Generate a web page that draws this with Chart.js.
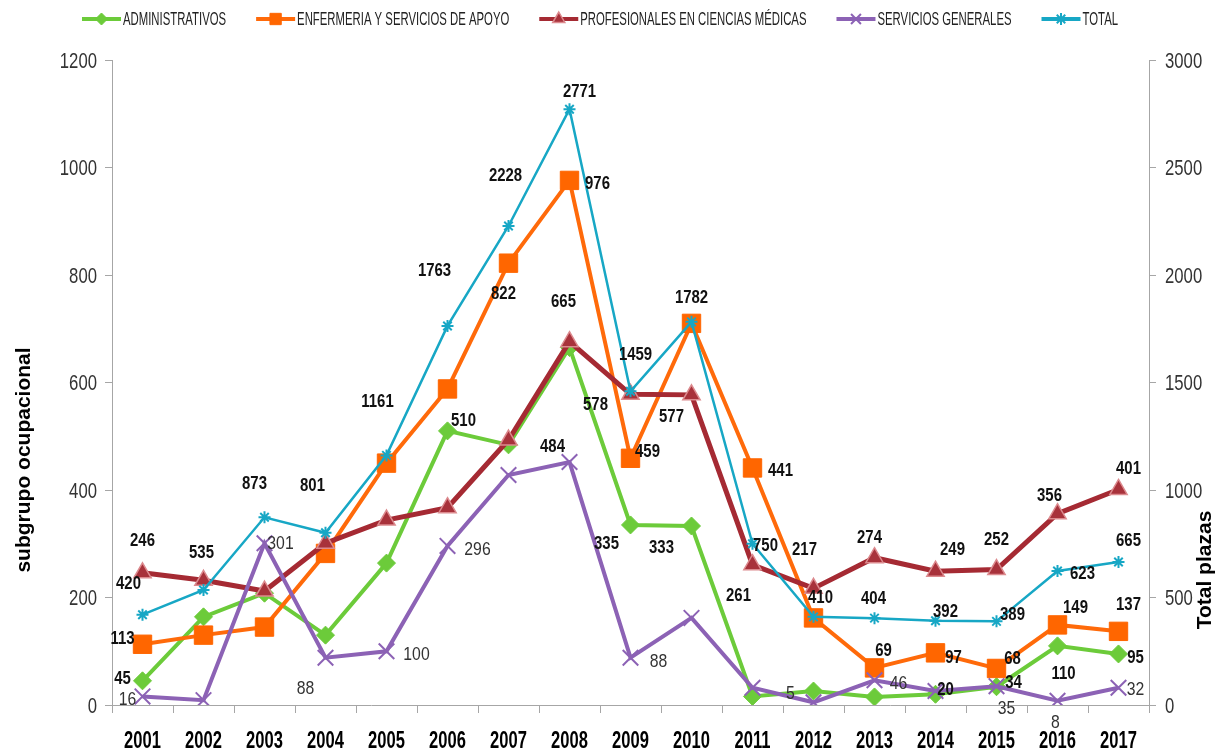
<!DOCTYPE html>
<html>
<head>
<meta charset="utf-8">
<script src="https://cdn.jsdelivr.net/npm/chart.js@4.4.1/dist/chart.umd.min.js"></script>
<style>
    html, body { margin: 0; padding: 0; background: #fff; }
    #wrap { width: 1217px; height: 756px; }
</style>
</head>
<body>
<div id="wrap"><canvas id="grafico" width="1217" height="756"></canvas></div>
<script>
// datos
const years = ['2001', '2002', '2003', '2004', '2005', '2006', '2007', '2008', '2009',
    '2010', '2011', '2012', '2013', '2014', '2015', '2016', '2017'];
const administrativos = [45, 164, 208, 130, 264, 510, 484, 665, 335, 333, 16, 26, 15, 20, 34, 110, 95];
const enfermeria = [113, 130, 145, 282, 450, 588, 822, 976, 459, 710, 441, 162, 69, 97, 68, 149, 137];
const profesionales = [246, 232, 212, 301, 344, 367, 493, 676, 578, 577, 261, 217, 274, 249, 252, 356, 401];
const serviciosGenerales = [16, 9, 301, 88, 100, 296, 428, 452, 88, 162, 32, 5, 46, 26, 35, 8, 32];
const totalPlazas = [420, 535, 873, 801, 1161, 1763, 2228, 2771, 1459, 1782, 750, 410, 404, 392, 389, 623, 665];

// donde va cada etiqueta respecto a su punto (null = sin etiqueta)
const offAdmin = [[-20, -3], null, null, null, null, [16, -11], [44, 1], [-6, -47], [-24, 18], [-30, 21],
    null, null, null, [10, -6], [17, -5], [6, 27], [17, 3]];
const offEnf = [[-20, -7], null, null, null, null, null, [-5, 29], [28, 2], [17, -8], null,
    [28, 2], null, [9, -18], [18, 4], [16, -11], [18, -18], [10, -28]];
const offProf = [[0, -33], null, null, null, null, null, null, null, [-35, 9], [-20, 21],
    [-14, 30], [-9, -40], [-5, -21], [17, -23], [0, -31], [-8, -19], [10, -22]];
const offServ = [[-15, 2], null, [16, -1], [-20, 29], [30, 2], [30, 2], null, null, [28, 2], null,
    null, [-23, -10], [24, 2], null, [10, 21], [-2, 20], [17, 0]];
const offTotal = [[-14, -32], [-2, -38], [-10, -35], [-13, -48], [-9, -55], [-13, -56], [-3, -51], [10, -19],
    [5, -38], [0, -25], [13, 1], [7, -20], [-1, -21], [10, -10], [16, -8], [25, 2], [10, -22]];

const FUENTE = '"Liberation Sans", Arial, sans-serif';
const GRIS = '#a6a6a6';

function texto(ctx, str, x, y, size, bold, align, sx, color) {
    ctx.save();
    ctx.font = (bold ? 'bold ' : '') + size + 'px ' + FUENTE;
    ctx.fillStyle = color;
    ctx.textAlign = align;
    ctx.textBaseline = 'alphabetic';
    ctx.translate(x, y + size * 0.358);
    ctx.scale(sx, 1);
    ctx.fillText(str, 0, 0);
    ctx.restore();
}

function textoVertical(ctx, str, x, y, size) {
    ctx.save();
    ctx.font = 'bold ' + size + 'px ' + FUENTE;
    ctx.fillStyle = '#000';
    ctx.textAlign = 'center';
    ctx.textBaseline = 'middle';
    ctx.translate(x, y);
    ctx.rotate(-Math.PI / 2);
    ctx.fillText(str, 0, 0);
    ctx.restore();
}

const textos = {
    id: 'textos',
    afterDatasetsDraw(chart) {
        const ctx = chart.ctx;
        chart.data.datasets.forEach((ds, i) => {
            const meta = chart.getDatasetMeta(i);
            meta.data.forEach((pt, j) => {
                const o = ds.offsets[j];
                if (!o) return;
                texto(ctx, String(ds.data[j]), pt.x + o[0], pt.y + o[1], ds.labelSize, ds.labelBold,
                    'center', 0.83, ds.labelColor);
            });
        });
    },
    afterDraw(chart) {
        const ctx = chart.ctx;
        const area = chart.chartArea;
        const sy = chart.scales.y, sy1 = chart.scales.y1, sx = chart.scales.x;

        sy.ticks.forEach(t => {
            texto(ctx, String(t.value), area.left - 15, sy.getPixelForValue(t.value), 22, false, 'right', 0.76, '#333');
        });
        sy1.ticks.forEach(t => {
            texto(ctx, String(t.value), area.right + 16, sy1.getPixelForValue(t.value), 22, false, 'left', 0.76, '#333');
        });
        chart.data.labels.forEach((lab, i) => {
            texto(ctx, lab, sx.getPixelForTick(i), 740, 23, true, 'center', 0.72, '#000');
        });

        textoVertical(ctx, 'subgrupo ocupacional', 24, 460, 21);
        textoVertical(ctx, 'Total plazas', 1205, 570, 21);

        // leyenda
        const size = 18, esc = 0.63, lineW = 39, gap = 30;
        ctx.save();
        ctx.font = size + 'px ' + FUENTE;
        const anchos = chart.data.datasets.map(ds => ctx.measureText(ds.label).width * esc);
        ctx.restore();
        const total = anchos.reduce((a, w) => a + lineW + 2 + w, 0) + gap * (anchos.length - 1);
        let x = 600 - total / 2;
        const y = 19;
        chart.data.datasets.forEach((ds, i) => {
            ctx.save();
            ctx.strokeStyle = ds.borderColor;
            ctx.lineWidth = 4;
            ctx.beginPath();
            ctx.moveTo(x, y);
            ctx.lineTo(x + lineW, y);
            ctx.stroke();
            ctx.fillStyle = ds.pointBackgroundColor;
            ctx.strokeStyle = ds.pointBorderColor;
            ctx.lineWidth = ds.pointBorderWidth;
            Chart.helpers.drawPoint(ctx, { pointStyle: ds.pointStyle, radius: ds.legendRadius, rotation: 0, borderWidth: ds.pointBorderWidth }, x + lineW / 2, y);
            ctx.restore();
            texto(ctx, ds.label, x + lineW + 2, y, size, false, 'left', esc, '#222');
            x += lineW + 2 + anchos[i] + gap;
        });
    }
};

const chart = new Chart(document.getElementById('grafico'), {
    type: 'line',
    data: {
        labels: years,
        datasets: [{
            label: 'ADMINISTRATIVOS',
            data: administrativos,
            yAxisID: 'y',
            order: 5,
            borderColor: '#6ccb3a',
            borderWidth: 4,
            pointStyle: 'rectRot',
            pointRadius: 9,
            pointBackgroundColor: '#6ccb3a',
            pointBorderColor: '#6ccb3a',
            pointBorderWidth: 1,
            legendRadius: 6,
            offsets: offAdmin,
            labelSize: 18, labelBold: true, labelColor: '#111'
        }, {
            label: 'ENFERMERIA Y SERVICIOS DE APOYO',
            data: enfermeria,
            yAxisID: 'y',
            order: 4,
            borderColor: '#ff6a0a',
            borderWidth: 4,
            pointStyle: 'rect',
            pointRadius: 13,
            pointBackgroundColor: '#ff6600',
            pointBorderColor: '#ff6600',
            pointBorderWidth: 1,
            legendRadius: 8,
            offsets: offEnf,
            labelSize: 18, labelBold: true, labelColor: '#111'
        }, {
            label: 'PROFESIONALES EN CIENCIAS MÉDICAS',
            data: profesionales,
            yAxisID: 'y',
            order: 3,
            borderColor: '#a52a33',
            borderWidth: 5,
            pointStyle: 'triangle',
            pointRadius: 10,
            pointBackgroundColor: '#a8323b',
            pointBorderColor: '#dc8a8e',
            pointBorderWidth: 1.5,
            legendRadius: 7,
            offsets: offProf,
            labelSize: 18, labelBold: true, labelColor: '#111'
        }, {
            label: 'SERVICIOS GENERALES',
            data: serviciosGenerales,
            yAxisID: 'y',
            order: 2,
            borderColor: '#8c62b5',
            borderWidth: 4,
            pointStyle: 'crossRot',
            pointRadius: 11,
            pointBackgroundColor: '#8c62b5',
            pointBorderColor: '#8c62b5',
            pointBorderWidth: 2,
            legendRadius: 7,
            offsets: offServ,
            labelSize: 19, labelBold: false, labelColor: '#333'
        }, {
            label: 'TOTAL',
            data: totalPlazas,
            yAxisID: 'y1',
            order: 1,
            borderColor: '#17a7c5',
            borderWidth: 2.5,
            pointStyle: 'star',
            pointRadius: 6,
            pointBackgroundColor: '#17a7c5',
            pointBorderColor: '#17a7c5',
            pointBorderWidth: 2,
            legendRadius: 6,
            offsets: offTotal,
            labelSize: 18, labelBold: true, labelColor: '#111'
        }]
    },
    options: {
        responsive: false,
        animation: false,
        layout: { padding: { top: 60 } },
        elements: { line: { tension: 0 } },
        plugins: {
            legend: { display: false },
            tooltip: { enabled: false }
        },
        scales: {
            x: {
                offset: true,
                grid: { offset: true, drawOnChartArea: false, tickLength: 8, color: GRIS },
                border: { color: GRIS },
                ticks: { display: false },
                afterFit: s => { s.height = 51; }
            },
            y: {
                position: 'left',
                min: 0, max: 1200,
                ticks: { stepSize: 200, display: false },
                grid: { drawOnChartArea: false, tickLength: 7, color: GRIS },
                border: { color: GRIS },
                afterFit: s => { s.width = 112; }
            },
            y1: {
                position: 'right',
                min: 0, max: 3000,
                ticks: { stepSize: 500, display: false },
                grid: { drawOnChartArea: false, tickLength: 7, color: GRIS },
                border: { color: GRIS },
                afterFit: s => { s.width = 68; }
            }
        }
    },
    plugins: [textos]
});
</script>
</body>
</html>
